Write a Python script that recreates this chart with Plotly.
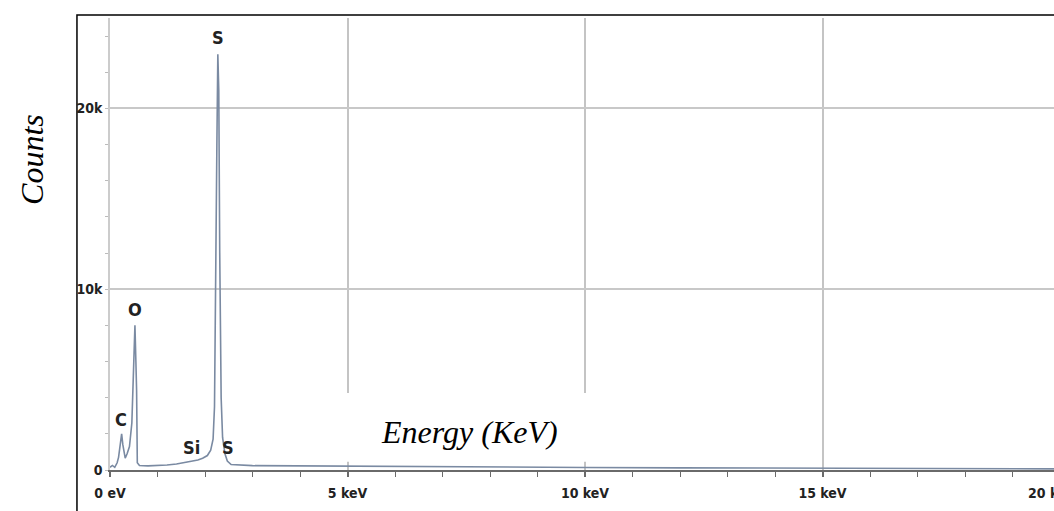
import plotly.graph_objects as go

# Spectrum (energy in keV, counts)
energy_kev = [0.00, 0.05, 0.10, 0.15, 0.18, 0.21, 0.245, 0.27, 0.30, 0.32, 0.36, 0.41, 0.46,
              0.50, 0.525, 0.545, 0.56, 0.575, 0.62, 0.80, 1.00, 1.20, 1.40, 1.60, 1.74,
              1.85, 1.95, 2.05, 2.12, 2.17, 2.20, 2.22, 2.25, 2.27, 2.29, 2.31, 2.34,
              2.37, 2.42, 2.47, 2.55, 3.0, 4.0, 5.0, 6.0, 8.0, 10.0, 12.0, 15.0, 18.0, 20.0]
counts = [150, 250, 150, 400, 700, 1300, 2000, 1400, 800, 660, 900, 1300, 2600,
          6000, 8000, 6000, 4400, 400, 250, 230, 240, 280, 330, 420, 480,
          550, 650, 800, 1100, 1700, 3500, 8000, 18000, 23000, 21000, 12000, 4000,
          1800, 900, 500, 300, 240, 220, 200, 180, 160, 140, 120, 100, 80, 60]

# Peak labels
peak_names = ["S", "O", "C", "Si", "S"]
peak_x = [2.28, 0.52, 0.24, 1.71, 2.48]
peak_y = [23900, 8850, 2800, 1270, 1270]

# Axis ticks
x_tickvals = [0, 5, 10, 15]
x_ticktext = ["0 eV", "5 keV", "10 keV", "15 keV"]
x_last_label = "20 keV"
y_tickvals = [0, 10000, 20000]
y_ticktext = ["0", "10k", "20k"]

narrow = "Liberation Sans Narrow, DejaVu Sans Condensed, Arial Narrow, sans-serif"
tick_font = dict(family=narrow, size=14, color="#222222", weight="bold")
label_font = dict(family=narrow, size=18, color="#222222", weight="bold")
title_font = dict(family="Liberation Serif, Times New Roman, serif", size=32, color="#000000",
                  style="italic")

fig = go.Figure()
fig.add_trace(go.Scatter(x=energy_kev, y=counts, mode="lines",
                         line=dict(color="#7a8aa2", width=1.6), hoverinfo="skip",
                         showlegend=False))

for name, px, py in zip(peak_names, peak_x, peak_y):
    fig.add_annotation(x=px, y=py, xref="x", yref="y", text=name, showarrow=False,
                       font=label_font, xanchor="center", yanchor="middle")

fig.update_layout(
    width=1054, height=511,
    margin=dict(l=110, r=0, t=18, b=41),
    paper_bgcolor="white", plot_bgcolor="white",
    xaxis=dict(range=[0, 944 / 47.5], tickvals=x_tickvals, ticktext=x_ticktext,
               showgrid=True, gridcolor="#c4c4c4", gridwidth=1.5, zeroline=False,
               showline=True, linecolor="#6a6a6a", linewidth=2,
               ticks="outside", ticklen=5, tickcolor="#6a6a6a", tickwidth=1.5,
               minor=dict(dtick=1, ticks="outside", ticklen=5, tickcolor="#6a6a6a",
                          tickwidth=1.2, showgrid=False),
               tickfont=tick_font, ticklabelstandoff=4),
    yaxis=dict(range=[0, 25000], tickvals=y_tickvals, ticktext=y_ticktext,
               showgrid=True, gridcolor="#c8c8c8", gridwidth=2, zeroline=False,
               showline=True, linecolor="#cccccc", linewidth=1.5,
               ticks="outside", ticklen=3, tickcolor="#bbbbbb",
               minor=dict(dtick=2000, ticks="outside", ticklen=3, tickcolor="#bbbbbb",
                          showgrid=False),
               tickfont=tick_font),
)

# white patch behind the axis title, as in the reference
fig.add_shape(type="rect", xref="x", yref="y", x0=4.88, x1=12.4, y0=450, y1=4260,
              fillcolor="white", line=dict(width=0), layer="between")

# outer frame
fig.add_shape(type="rect", xref="paper", yref="paper", x0=-0.035, x1=1.05, y0=-0.3, y1=1.0066,
              line=dict(color="black", width=1.5), fillcolor="rgba(0,0,0,0)", layer="above")

fig.add_annotation(xref="paper", yref="paper", x=0.381, y=0.084, text="Energy (KeV)",
                   showarrow=False, font=title_font, xanchor="center", yanchor="middle")
fig.add_annotation(xref="paper", yref="paper", x=-0.0826, y=0.686, text="Counts",
                   textangle=-90, showarrow=False, font=title_font,
                   xanchor="center", yanchor="middle")
fig.add_annotation(xref="paper", yref="paper", x=(1026 - 110) / 944, y=0, yshift=-23,
                   text=x_last_label, showarrow=False, font=tick_font,
                   xanchor="left", yanchor="middle")

fig.write_html("out.html")
